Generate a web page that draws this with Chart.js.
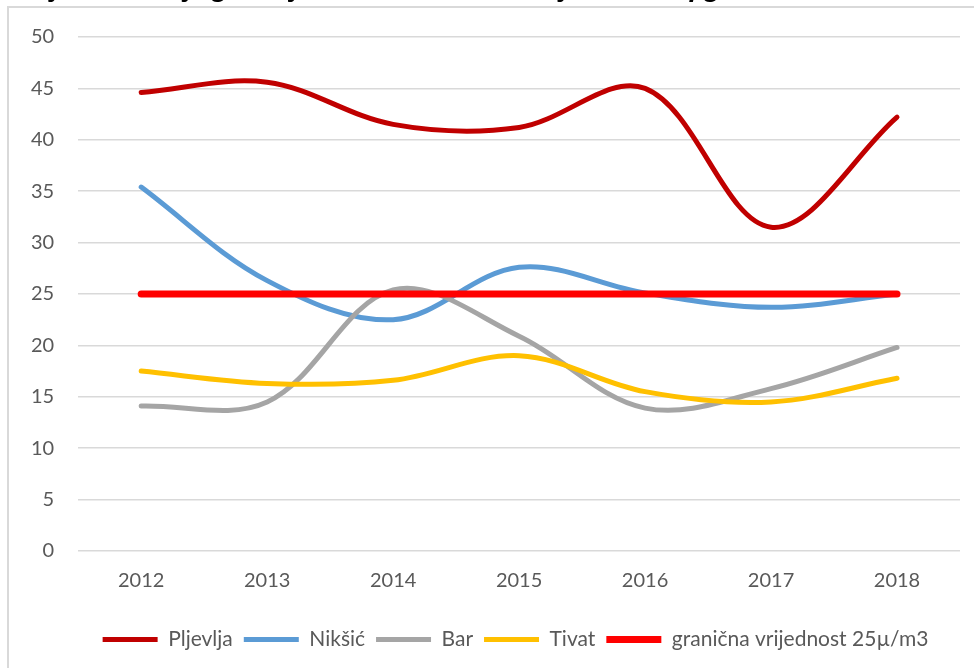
<!DOCTYPE html>
<html>
<head>
<meta charset="utf-8">
<script src="https://cdn.jsdelivr.net/npm/chart.js@4.4.0/dist/chart.umd.min.js"></script>
<style>
  html, body { margin: 0; padding: 0; background: #fff; overflow: hidden; }
  #frame { position: absolute; left: 7px; top: 6px; width: 1000px; height: 700px; border: 2px solid #d9d9d9; box-sizing: border-box; }
  #chart { position: absolute; left: 0; top: 0; }
</style>
</head>
<body>
<div id="frame"></div>
<canvas id="chart" width="974" height="668"></canvas>
<script>
const years = ["2012", "2013", "2014", "2015", "2016", "2017", "2018"]
const pljevlja = [44.6, 45.6, 41.5, 41.2, 45.0, 31.5, 42.2]
const niksic = [35.4, 26.3, 22.5, 27.6, 25.1, 23.7, 25.0]
const bar = [14.1, 14.5, 25.4, 20.9, 13.9, 15.8, 19.8]
const tivat = [17.5, 16.3, 16.6, 19.0, 15.5, 14.5, 16.8]
const limit = [25, 25, 25, 25, 25, 25, 25]
const yTicks = [0, 5, 10, 15, 20, 25, 30, 35, 40, 45, 50]

const title = "Grafik 1: Srednje godišnje masene koncentracije PM10, u µg/m3 (2012 - 2018)"

const textColor = "#595959"

// title sits mostly above the page edge, only the bottom of the glyphs shows
const cutTitle = {
  id: "cutTitle",
  beforeDraw(chart) {
    const ctx = chart.ctx
    ctx.save()
    let size = 22
    ctx.font = `italic bold ${size}px "Open Sans"`
    const w = ctx.measureText(title).width
    size = size * 915 / w
    ctx.font = `italic bold ${size}px "Open Sans"`
    ctx.fillStyle = "#000"
    ctx.textBaseline = "alphabetic"
    ctx.fillText(title, 8, -4)
    ctx.restore()
  }
}

// move legend to the spot it has in the reference
const moveLegend = {
  id: "moveLegend",
  afterLayout(chart) {
    const lg = chart.legend
    const dx = 32, dy = 15
    lg.left += dx; lg.right += dx
    lg.top += dy; lg.bottom += dy
  }
}

function line(label, data, color, width, order) {
  return {
    label, data, order,
    borderColor: color,
    backgroundColor: color,
    borderWidth: width,
    borderCapStyle: "round",
    borderJoinStyle: "round",
    pointRadius: 0,
    pointHoverRadius: 0,
    pointStyle: "line",
    tension: 0.35,
    fill: false
  }
}

new Chart(document.getElementById("chart"), {
  type: "line",
  data: {
    labels: years,
    datasets: [
      line("Pljevlja", pljevlja, "#C00000", 5, 5),
      line("Nikšić", niksic, "#5B9BD5", 5, 4),
      line("Bar", bar, "#A5A5A5", 5, 3),
      line("Tivat", tivat, "#FFC000", 5, 2),
      Object.assign(line("granična vrijednost 25µ/m3", limit, "#FF0000", 7, 1), { tension: 0 })
    ]
  },
  options: {
    responsive: false,
    animation: false,
    layout: { padding: { left: 7, right: 14, top: 37, bottom: 23 } },
    plugins: {
      title: { display: false },
      tooltip: { enabled: false },
      legend: {
        position: "bottom",
        labels: {
          usePointStyle: true,
          pointStyleWidth: 55,
          boxHeight: 6,
          padding: 11,
          color: textColor,
          font: { family: "Lato", size: 21 },
          sort: (a, b) => a.datasetIndex - b.datasetIndex
        }
      }
    },
    scales: {
      x: {
        offset: true,
        grid: { display: false },
        border: { display: false },
        ticks: { color: textColor, font: { family: "Lato", size: 20 }, padding: 10, maxRotation: 0 }
      },
      y: {
        min: 0,
        max: 50,
        afterBuildTicks: axis => { axis.ticks = yTicks.map(v => ({ value: v })) },
        grid: { color: "#D9D9D9", lineWidth: 1.5, drawTicks: false },
        border: { display: false },
        ticks: { color: textColor, font: { family: "Lato", size: 20 }, padding: 24 }
      }
    }
  },
  plugins: [cutTitle, moveLegend]
})
</script>
</body>
</html>
